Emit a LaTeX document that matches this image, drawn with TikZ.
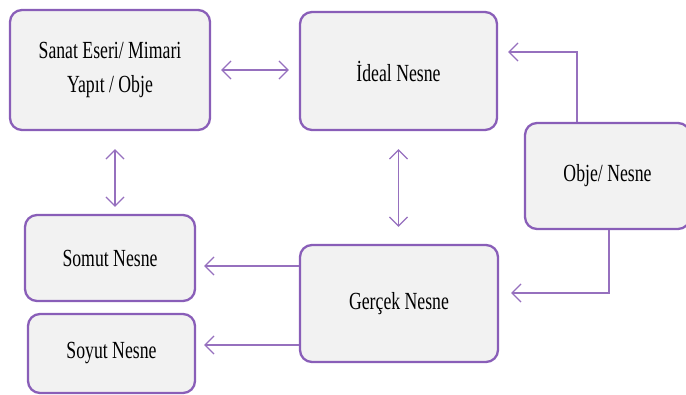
\documentclass[tikz,border=0pt]{standalone}
\usepackage{fontspec}
\setmainfont{Liberation Serif}[FakeStretch=0.72]
\usepackage{xcolor}
\usepackage{tikz}
\usetikzlibrary{positioning,calc,arrows.meta}

\definecolor{boxline}{RGB}{137,94,184}
\definecolor{boxfill}{RGB}{242,242,242}
\definecolor{arrowline}{RGB}{150,112,190}

\begin{document}
\begin{tikzpicture}[
    box/.style={draw=boxline, line width=1.3pt, fill=boxfill, rounded corners=0.24cm,
        align=center, inner sep=0pt, font=\fontsize{14}{19.3}\selectfont},
    link/.style={draw=arrowline, line width=0.7pt},
    tip/.style={-{Straight Barb[length=1.8mm,width=3.6mm]}},
    bitip/.style={{Straight Barb[length=1.8mm,width=3.6mm]}-{Straight Barb[length=1.8mm,width=3.6mm]}}
]
    \useasboundingbox (0,0) rectangle (13.72,7.88);
    \clip (0,0) rectangle (13.72,7.88);

    % Top row
    \node[box, minimum width=4cm, minimum height=2.4cm] (sanat) at (2.2,6.48) {Sanat Eseri/ Mimari\\Yapıt / Obje};
    \node[box, minimum width=3.94cm, minimum height=2.36cm] (ideal) at (7.97,6.46) {İdeal Nesne};
    % Right box (cut at the edge)
    \node[box, minimum width=3.3cm, minimum height=2.12cm] (obje) at (12.15,4.36) {Obje/ Nesne};
    % Bottom row
    \node[box, minimum width=3.4cm, minimum height=1.72cm] (somut) at (2.2,2.72) {Somut Nesne};
    \node[box, minimum width=3.34cm, minimum height=1.58cm] (soyut) at (2.23,0.81) {Soyut Nesne};
    \node[box, minimum width=3.96cm, minimum height=2.34cm] (gercek) at (7.98,1.81) {Gerçek Nesne};

    % Sanat <-> Ideal
    \draw[link, bitip, shorten <=2mm, shorten >=2mm] (sanat.east) -- (sanat.east -| ideal.west);
    % Sanat <-> Somut
    \draw[link, bitip, shorten <=3.6mm, shorten >=1.4mm] ([xshift=1mm]sanat.south) -- ([xshift=1mm]sanat.south |- somut.north);
    % Ideal <-> Gercek
    \draw[link, bitip, shorten <=3.6mm, shorten >=3.4mm] (ideal.south) -- (ideal.south |- gercek.north);
    % Obje -> Ideal
    \coordinate (up) at ([xshift=-0.61cm]obje.north |- 0,6.84);
    \draw[link, tip, shorten >=2mm] ([xshift=-0.61cm]obje.north) -- (up) -- (up -| ideal.east);
    % Obje -> Gercek
    \coordinate (down) at ([xshift=0.03cm]obje.south |- 0,2.02);
    \draw[link, tip, shorten >=2.4mm] ([xshift=0.03cm]obje.south) -- (down) -- (down -| gercek.east);
    % Gercek -> Somut, Soyut
    \draw[link, tip, shorten >=1.6mm] (gercek.west |- 0,2.56) -- (somut.east |- 0,2.56);
    \draw[link, tip, shorten >=1.6mm] (gercek.west |- 0,0.98) -- (soyut.east |- 0,0.98);
\end{tikzpicture}
\end{document}
